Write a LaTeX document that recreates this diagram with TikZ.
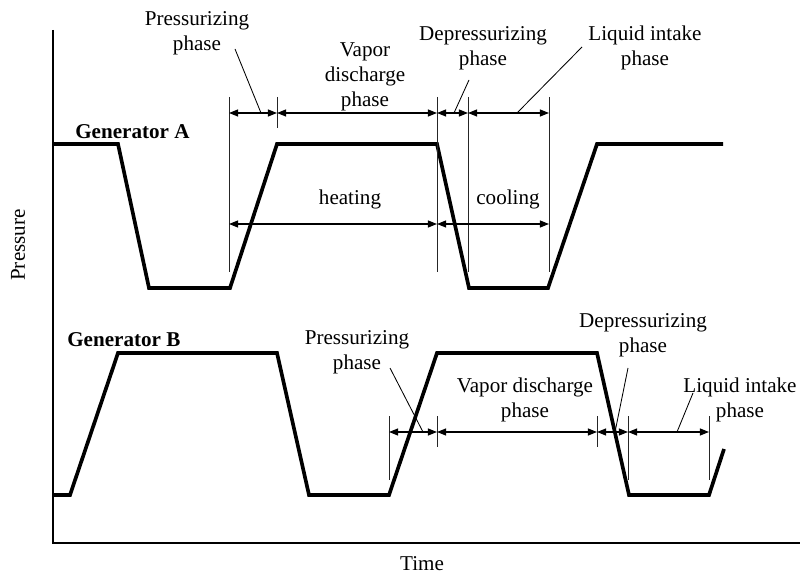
\documentclass[tikz,border=0pt]{standalone}
\usepackage{fontspec}
\setmainfont{Liberation Serif}
\usetikzlibrary{positioning,arrows.meta,calc}

\begin{document}
\begin{tikzpicture}[
    x=0.025cm, y=-0.025cm,
    every node/.style={font=\fontsize{15}{17.8}\selectfont, align=center, inner sep=0pt},
    genlabel/.style={font=\fontsize{15}{17.8}\selectfont\bfseries, anchor=west},
    wave/.style={line width=2.6pt, line join=miter},
    tick/.style={line width=0.5pt, black!85},
    dim/.style={line width=0.8pt, {Triangle[length=6.5pt,width=5pt]}-{Triangle[length=6.5pt,width=5pt]}},
    leader/.style={line width=0.6pt}
]
\useasboundingbox (0,0) rectangle (800,576);

% Axes
\coordinate (origin) at (53,543);
\coordinate (ytop) at (53,30);
\coordinate (xend) at (800,543);
\draw[line width=1pt] (ytop) -- (origin) -- (xend);
\node[rotate=90] (ylab) at (18,245) {Pressure};
\node[align=left] (xlab) at (422,564) {Time};

% Generator A waveform
\node[genlabel] (genA) at (75,132) {Generator A};
\draw[wave] (53,144) -- (118,144) -- (149,288) -- (230,288) -- (277,144)
    -- (437,144) -- (469,288) -- (548,288) -- (597,144) -- (723,144);

% Generator B waveform
\node[genlabel] (genB) at (67,340) {Generator B};
\draw[wave] (53,495) -- (70,495) -- (118,353) -- (277,353) -- (309,495)
    -- (389,495) -- (437,353) -- (597,353) -- (629,495) -- (709,495) -- (724,449);

% Phase marks for generator A
\coordinate (rowA) at (0,113);
\coordinate (rowH) at (0,224);
\foreach \n/\x/\yb in {1/229/272, 2/277/128, 3/437/272, 4/468/272, 5/549/272} {
    \coordinate (ta\n) at (\x,97);
    \coordinate (ba\n) at (\x,\yb);
    \draw[tick] (ta\n) -- (ba\n);
}
\foreach \a/\b in {1/2, 2/3, 3/4, 4/5}
    \draw[dim] (ta\a |- rowA) -- (ta\b |- rowA);
\draw[dim] (ta1 |- rowH) -- (ta3 |- rowH);
\draw[dim] (ta3 |- rowH) -- (ta5 |- rowH);

\node (pressA) at (197,33) {Pressurizing\\phase};
\node (vaporA) at (365,77) {Vapor\\discharge\\phase};
\node (depA) at (483,48) {Depressurizing\\phase};
\node (liqA) at (645,48) {Liquid intake\\phase};
\node (heat) at (350,199) {heating};
\node (cool) at (508,199) {cooling};

\coordinate (lpA) at (235,49);  \coordinate (epA) at (261,113);
\coordinate (ldA) at (469,80);  \coordinate (edA) at (454,113);
\coordinate (llA) at (582,47);  \coordinate (elA) at (517,113);
\draw[leader] (lpA) -- (epA);
\draw[leader] (ldA) -- (edA);
\draw[leader] (llA) -- (elA);

% Phase marks for generator B
\coordinate (rowB) at (0,432);
\foreach \n/\x/\yb in {1/389/480, 2/437/447, 3/597/447, 4/628/480, 5/709/480} {
    \coordinate (tb\n) at (\x,416);
    \coordinate (bb\n) at (\x,\yb);
    \draw[tick] (tb\n) -- (bb\n);
}
\foreach \a/\b in {1/2, 2/3, 3/4, 4/5}
    \draw[dim] (tb\a |- rowB) -- (tb\b |- rowB);

\node (pressB) at (357,352) {Pressurizing\\phase};
\node (vaporB) at (525,400) {Vapor discharge\\phase};
\node (depB) at (643,335) {Depressurizing\\phase};
\node (liqB) at (740,400) {Liquid intake\\phase};

\coordinate (lpB) at (390,368); \coordinate (epB) at (423,432);
\coordinate (ldB) at (628,368); \coordinate (edB) at (615,432);
\coordinate (llB) at (693,393); \coordinate (elB) at (677,432);
\draw[leader] (lpB) -- (epB);
\draw[leader] (ldB) -- (edB);
\draw[leader] (llB) -- (elB);

\end{tikzpicture}
\end{document}
